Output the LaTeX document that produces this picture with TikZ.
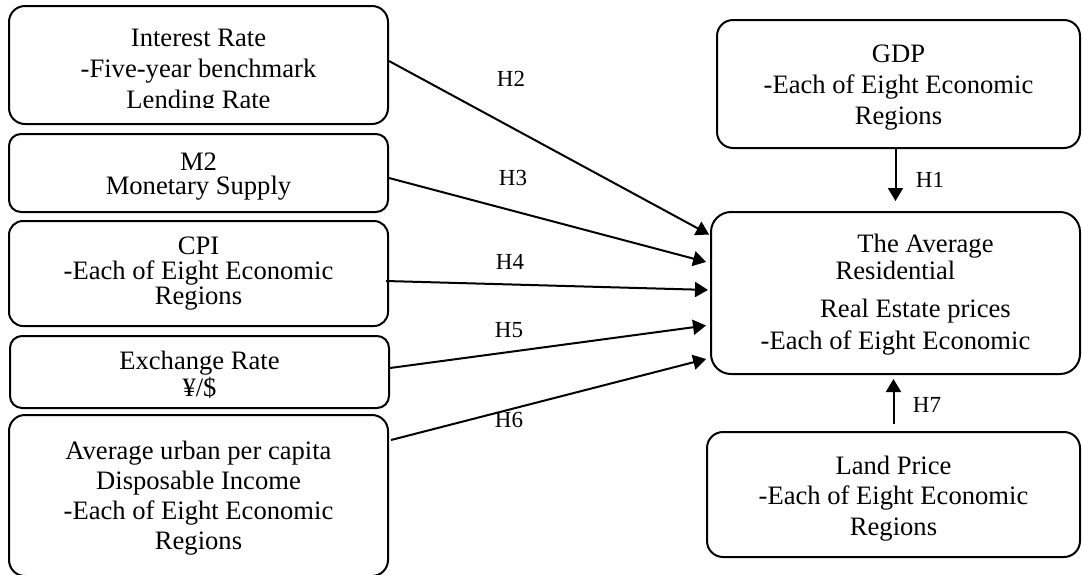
\documentclass[tikz,border=0pt]{standalone}
\usepackage{fontspec}
\setmainfont{Liberation Serif}
\usetikzlibrary{arrows.meta,calc}
\newcommand{\tstrut}{\rule{0pt}{12pt}}
\begin{document}
\begin{tikzpicture}[x=0.5pt,y=-0.5pt,
  box/.style={draw,line width=1pt,rounded corners=8pt,inner sep=0pt,align=center},
  lsp/.style={font=\fontsize{13.3}{#1}\selectfont},
  arr/.style={line width=1pt,-{Triangle[length=6.5pt,width=7.5pt]}},
  lbl/.style={inner sep=0pt,font=\fontsize{11.5}{13}\selectfont}]
\useasboundingbox (0,0) rectangle (1082,574);

% left column
\node[box,minimum width=189.5pt,minimum height=59pt] (int) at (198.5,65) {};
\begin{scope}
  \clip (9,6) rectangle (388,107.5);
  \node[box,draw=none,lsp=15.5pt] (intT) at (198.5,72) {Interest Rate\\-Five-year benchmark\\Lending Rate};
\end{scope}
\node[box,rounded corners=6pt,lsp=12pt,minimum width=189.5pt,minimum height=39pt] (m2) at (198.5,173) {\tstrut M2\\Monetary Supply};
\node[box,rounded corners=7pt,lsp=12.5pt,minimum width=189.5pt,minimum height=52.5pt] (cpi) at (198.5,273.5) {CPI\\-Each of Eight Economic\\Regions};
\node[box,rounded corners=6pt,lsp=11pt,minimum width=189.5pt,minimum height=36pt] (ex) at (199.5,372) {\tstrut Exchange Rate\\¥/\$};
\node[box,lsp=15pt,minimum width=189.5pt,minimum height=80.5pt] (avg) at (198.5,495.5) {\tstrut Average urban per capita\\Disposable Income\\-Each of Eight Economic\\Regions};

% right column
\node[box,lsp=15.5pt,minimum width=181.5pt,minimum height=64pt] (gdp) at (898.5,84) {\tstrut GDP\\-Each of Eight Economic\\Regions};
\node[box,rounded corners=10pt,lsp=12pt,minimum width=184.5pt,minimum height=81pt] (main) at (895.5,293) {\rule{0pt}{11pt}\hspace*{30pt}The Average\\Residential\\[7pt]\hspace*{20pt}Real Estate prices\\[3pt]-Each of Eight Economic};
\node[box,lsp=15.25pt,minimum width=186.5pt,minimum height=62.5pt] (land) at (893.5,494.5) {\rule{0pt}{13pt}Land Price\\-Each of Eight Economic\\Regions};

% connectors
\draw[arr,shorten >=5pt] (gdp.south -| main.north) -- (main.north);
\draw[arr,shorten <=3.5pt,shorten >=2pt] (land.north) -- (land.north |- main.south);
\draw[arr,shorten >=0.5pt] ($(int.east)+(0,-4)$) -- ($(main.west)+(0,-58)$);
\draw[arr,shorten >=2pt] ($(m2.east)+(0,5)$) -- ($(main.west)+(0,-30)$);
\draw[arr,shorten >=1pt] ($(cpi.east)+(-3,7.5)$) -- ($(main.west)+(0,-3)$);
\draw[arr,shorten >=2pt] ($(ex.east)+(0,-4)$) -- ($(main.west)+(0,32)$);
\draw[arr,shorten >=2pt] ($(avg.east)+(2,-55.5)$) -- ($(main.west)+(0,65)$);

% labels
\node[lbl] (h1) at (930,180) {H1};
\node[lbl] (h2) at (511,79) {H2};
\node[lbl] (h3) at (513,178) {H3};
\node[lbl] (h4) at (510,262) {H4};
\node[lbl] (h5) at (509,330) {H5};
\node[lbl] (h6) at (509,420) {H6};
\node[lbl] (h7) at (927,405) {H7};
\end{tikzpicture}
\end{document}
